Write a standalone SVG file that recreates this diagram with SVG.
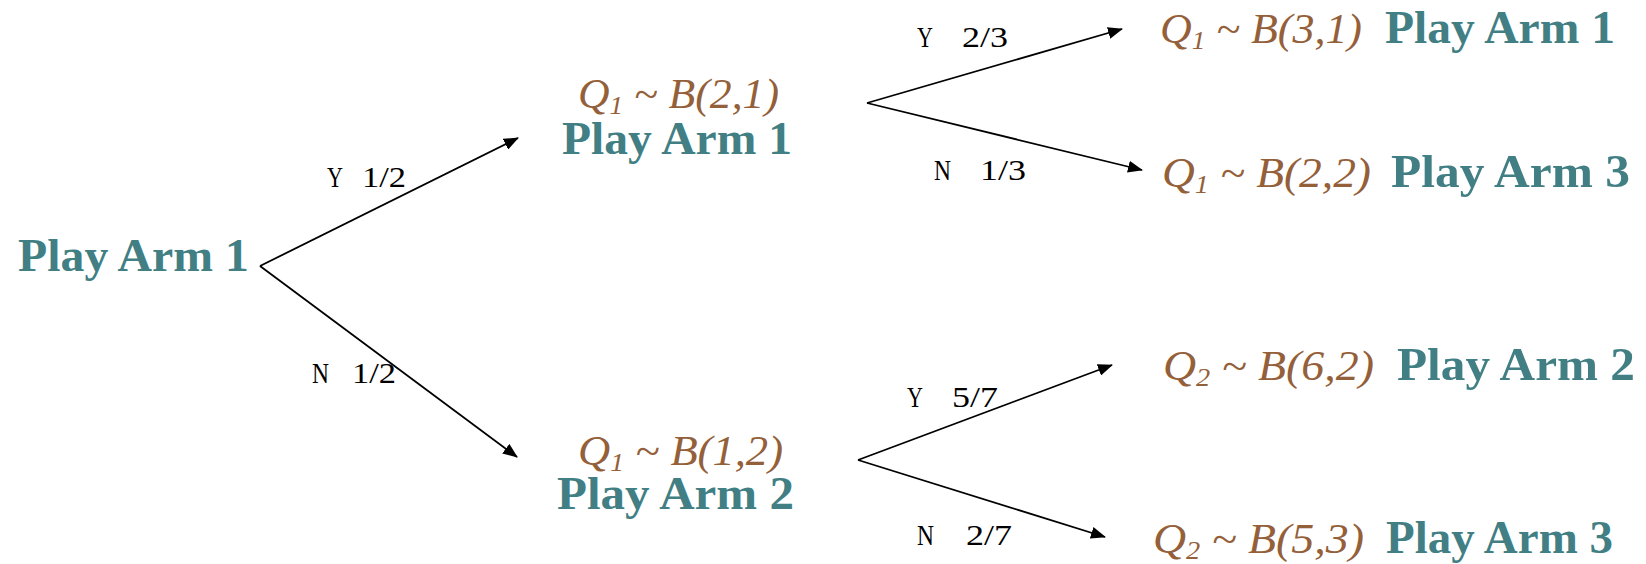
<svg xmlns="http://www.w3.org/2000/svg" width="1646" height="564" viewBox="0 0 1646 564">
<defs>
<style>
.t{font-family:"Liberation Serif","DejaVu Serif",serif;font-weight:bold;font-size:47px;fill:#417F84}
.q{font-family:"Liberation Serif","DejaVu Serif",serif;font-style:italic;font-size:42px;fill:#94603A}
.s{font-size:26px}
.l{font-family:"Liberation Serif","DejaVu Serif",serif;font-size:30px;fill:#000}
.c{stroke:#000;stroke-width:1.8;fill:none;marker-end:url(#ah)}
</style>
<marker id="ah" viewBox="0 0 15 12" refX="14" refY="6" markerWidth="15" markerHeight="12" markerUnits="userSpaceOnUse" orient="auto">
<path d="M0,0 L15,6 L0,12 z" fill="#000"/>
</marker>
</defs>
<rect width="1646" height="564" fill="#fff"/>
<g id="connectors">
<line class="c" x1="260" y1="266" x2="518" y2="138"/>
<line class="c" x1="260" y1="266" x2="517" y2="457"/>
<line class="c" x1="867" y1="103" x2="1122" y2="29"/>
<line class="c" x1="867" y1="103" x2="1142" y2="170"/>
<line class="c" x1="858" y1="460" x2="1112" y2="365"/>
<line class="c" x1="858" y1="460" x2="1105" y2="537"/>
<text class="l" x="327" y="187" textLength="16" lengthAdjust="spacingAndGlyphs">Y</text>
<text class="l" x="362" y="187" textLength="44" lengthAdjust="spacingAndGlyphs">1/2</text>
<text class="l" x="312" y="383" textLength="17" lengthAdjust="spacingAndGlyphs">N</text>
<text class="l" x="352" y="383" textLength="44" lengthAdjust="spacingAndGlyphs">1/2</text>
<text class="l" x="917" y="47" textLength="16" lengthAdjust="spacingAndGlyphs">Y</text>
<text class="l" x="962" y="47" textLength="46" lengthAdjust="spacingAndGlyphs">2/3</text>
<text class="l" x="934" y="180" textLength="17" lengthAdjust="spacingAndGlyphs">N</text>
<text class="l" x="980" y="180" textLength="46" lengthAdjust="spacingAndGlyphs">1/3</text>
<text class="l" x="907" y="407" textLength="16" lengthAdjust="spacingAndGlyphs">Y</text>
<text class="l" x="952" y="407" textLength="46" lengthAdjust="spacingAndGlyphs">5/7</text>
<text class="l" x="917" y="545" textLength="17" lengthAdjust="spacingAndGlyphs">N</text>
<text class="l" x="966" y="545" textLength="46" lengthAdjust="spacingAndGlyphs">2/7</text>
</g>
<g id="root">
<text class="t" x="18" y="271" textLength="231" lengthAdjust="spacingAndGlyphs">Play Arm 1</text>
</g>
<g id="mid-top">
<text class="q" x="578" y="108" textLength="201" lengthAdjust="spacingAndGlyphs">Q<tspan class="s" dy="6">1</tspan><tspan dy="-6"> ~ B(2,1)</tspan></text>
<text class="t" x="562" y="154" textLength="230" lengthAdjust="spacingAndGlyphs">Play Arm 1</text>
</g>
<g id="mid-bottom">
<text class="q" x="578" y="465" textLength="205" lengthAdjust="spacingAndGlyphs">Q<tspan class="s" dy="6">1</tspan><tspan dy="-6"> ~ B(1,2)</tspan></text>
<text class="t" x="557" y="509" textLength="237" lengthAdjust="spacingAndGlyphs">Play Arm 2</text>
</g>
<g id="leaf-1">
<text class="q" x="1160" y="43" textLength="202" lengthAdjust="spacingAndGlyphs">Q<tspan class="s" dy="6">1</tspan><tspan dy="-6"> ~ B(3,1)</tspan></text>
<text class="t" x="1385" y="43" textLength="230" lengthAdjust="spacingAndGlyphs">Play Arm 1</text>
</g>
<g id="leaf-2">
<text class="q" x="1162" y="187" textLength="209" lengthAdjust="spacingAndGlyphs">Q<tspan class="s" dy="6">1</tspan><tspan dy="-6"> ~ B(2,2)</tspan></text>
<text class="t" x="1391" y="187" textLength="239" lengthAdjust="spacingAndGlyphs">Play Arm 3</text>
</g>
<g id="leaf-3">
<text class="q" x="1163" y="380" textLength="211" lengthAdjust="spacingAndGlyphs">Q<tspan class="s" dy="6">2</tspan><tspan dy="-6"> ~ B(6,2)</tspan></text>
<text class="t" x="1397" y="380" textLength="238" lengthAdjust="spacingAndGlyphs">Play Arm 2</text>
</g>
<g id="leaf-4">
<text class="q" x="1153" y="553" textLength="211" lengthAdjust="spacingAndGlyphs">Q<tspan class="s" dy="6">2</tspan><tspan dy="-6"> ~ B(5,3)</tspan></text>
<text class="t" x="1386" y="553" textLength="227" lengthAdjust="spacingAndGlyphs">Play Arm 3</text>
</g>
</svg>
